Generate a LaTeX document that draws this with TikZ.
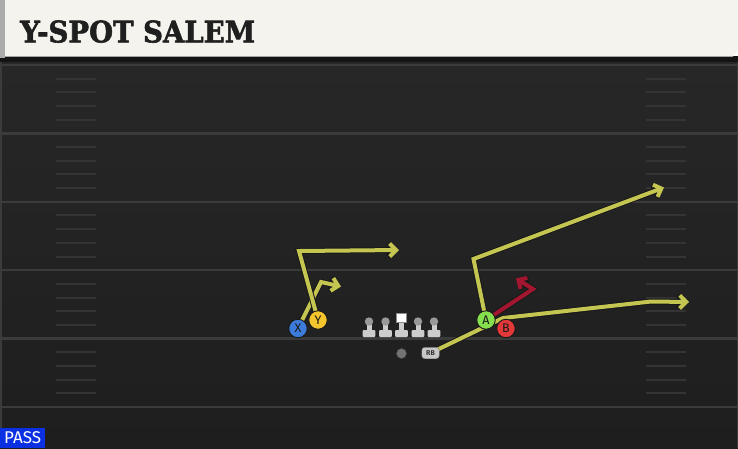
\documentclass[tikz,border=0pt]{standalone}
\usepackage{fontspec}
\usepackage{graphicx}
\usetikzlibrary{positioning,arrows.meta}
\newfontfamily\titlefont[BoldFont={DejaVu Serif Bold}, BoldFeatures={FakeBold=2}]{DejaVu Serif}
\newfontfamily\labelfont{Fira Sans}
\definecolor{fieldtop}{HTML}{272727}
\definecolor{fieldbottom}{HTML}{1E1E1E}
\definecolor{fieldline}{HTML}{3B3B3B}
\definecolor{hashline}{HTML}{343434}
\definecolor{header}{HTML}{F5F3EE}
\definecolor{routeyellow}{HTML}{C5C552}
\definecolor{routered}{HTML}{A2162F}
\definecolor{passblue}{HTML}{0B30E2}
\definecolor{xblue}{HTML}{3D7BDA}
\definecolor{yyellow}{HTML}{F4C52C}
\definecolor{agreen}{HTML}{86E04E}
\definecolor{bred}{HTML}{E2383A}
\pgfdeclarelayer{field}
\pgfdeclarelayer{routes}
\pgfsetlayers{field,routes,main}
\tikzset{
  player/.style={
    circle,
    draw=black!90,
    line width=0.9pt,
    minimum size=18.5pt,
    inner sep=0pt,
    font=\labelfont\fontsize{12.5}{12.5}\selectfont,
    text=black!90
  },
  route/.style={
    draw=routeyellow,
    line width=4pt,
    line join=miter,
    preaction={draw=black!90, line width=6pt},
    -{Straight Barb[length=6.5pt,width=13pt]}
  },
  hotroute/.style={route, draw=routered},
  backfield/.style={
    draw=black!60,
    fill=black!22,
    rounded corners=3pt,
    minimum width=17.5pt,
    minimum height=11.5pt,
    inner sep=0pt,
    font=\labelfont\bfseries\fontsize{7}{7}\selectfont,
    text=black!80
  },
  lineman/.pic={
    \fill[black!20, rounded corners=1pt] (-6.3,330) rectangle (6.3,337);
    \fill[black!20] (-2.5,324) rectangle (2.5,331);
    \fill[black!40] (0,321.5) circle (4.2);
  },
  snapper/.pic={
    \fill[black!20, rounded corners=1pt] (-6.3,330) rectangle (6.3,337);
    \fill[black!20] (-2.5,322) rectangle (2.5,331);
    \filldraw[fill=white, draw=black!45, line width=0.7pt] (-5,313) rectangle (5,322.5);
  }
}
\begin{document}
\begin{tikzpicture}[x=1pt,y=-1pt]
  \useasboundingbox (0,0) rectangle (738,448);

  \begin{pgfonlayer}{field}
    % field
    \shade[top color=fieldtop, bottom color=fieldbottom] (0,62) rectangle (738,448);
    \fill[black!92] (0,56) rectangle (738,62);
    \draw[fieldline, line width=2pt] (1,62) -- (1,448);
    \draw[fieldline, line width=1pt] (737.5,62) -- (737.5,448);
    % yard lines and hashes
    \foreach \k in {0,...,5}
      \draw[fieldline, line width=2.4pt] (0,65+68.4*\k) -- (738,65+68.4*\k);
    \foreach \k in {0,...,4}
      \foreach \j in {1,...,4} {
        \draw[hashline, line width=2pt] (56,65+68.4*\k+13.68*\j) -- (96,65+68.4*\k+13.68*\j);
        \draw[hashline, line width=2pt] (646,65+68.4*\k+13.68*\j) -- (686,65+68.4*\k+13.68*\j);
      }
    % header
    \fill[black!33] (0,0) rectangle (5,58);
    \fill[header] (5,0) -- (738,0) -- (738,50) -- (733,56.5) -- (5,56.5) -- cycle;
  \end{pgfonlayer}

  \node[anchor=south west, inner sep=0pt, text=black!88] (play_name) at (20,43)
    {\resizebox{235pt}{22pt}{\titlefont\bfseries Y-SPOT SALEM}};

  \node[fill=passblue, text=white, anchor=south west, minimum width=45pt, minimum height=20pt,
    inner sep=0pt, font=\labelfont\fontsize{17}{17}\selectfont] (play_type) at (0,448) {PASS};

  % offense line
  \pic at (369,0) {lineman};
  \pic at (385.5,0) {lineman};
  \pic at (401.5,0) {snapper};
  \pic at (418,0) {lineman};
  \pic at (434,0) {lineman};

  % backfield
  \node[circle, fill=black!55, draw=black!70, minimum size=10pt, inner sep=0pt] (qb) at (401.5,353.5) {};
  \node[backfield] (rb) at (430.5,353) {RB};

  % receivers
  \node[player, fill=xblue] (x_rec) at (298,328.5) {X};
  \node[player, fill=yyellow] (y_rec) at (318,320) {Y};
  \node[player, fill=agreen] (a_rec) at (486,320) {A};
  \node[player, fill=bred] (b_rec) at (506,328.5) {B};

  % route breaks
  \coordinate (x_break) at (321,282);
  \coordinate (x_end) at (341,286.5);
  \coordinate (y_break) at (299,251);
  \coordinate (y_end) at (399,250);
  \coordinate (a_break) at (473.5,259);
  \coordinate (a_end) at (664,187.5);
  \coordinate (hot_break) at (533,289);
  \coordinate (hot_end) at (516,278.5);
  \coordinate (rb_break) at (503,318);
  \coordinate (rb_turn) at (651,301.5);
  \coordinate (rb_end) at (689,302);

  \begin{pgfonlayer}{routes}
    \draw[route] (x_rec.center) -- (x_break) -- (x_end);
    \draw[route] (y_rec.center) -- (y_break) -- (y_end);
    \draw[route] (a_rec.center) -- (a_break) -- (a_end);
    \draw[route] (rb.center) -- (rb_break) -- (rb_turn) -- (rb_end);
    \draw[hotroute] (a_rec.center) -- (hot_break) -- (hot_end);
  \end{pgfonlayer}

\end{tikzpicture}
\end{document}
